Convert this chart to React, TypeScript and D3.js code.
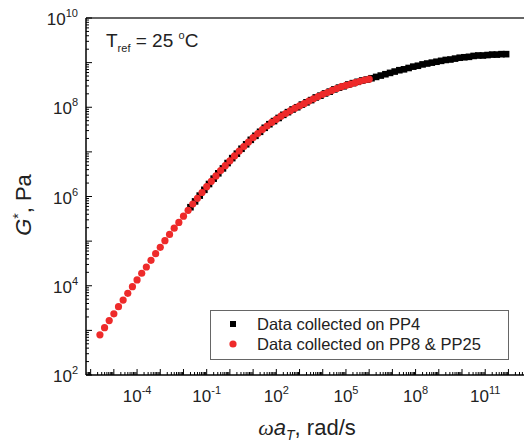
import React from 'react';
import * as d3 from 'd3';

// log10(ω·aT) and log10(G*)
const pp4LogW = [-1.7, -1.5, -1.3, -1.1, -0.9, -0.7, -0.5, -0.3, -0.1, 0.1, 0.3, 0.5, 0.7, 0.9, 1.1, 1.3, 1.5, 1.7, 1.9, 2.1, 2.3, 2.5, 2.7, 2.9, 3.1, 3.3, 3.5, 3.7, 3.9, 4.1, 4.3, 4.5, 4.7, 4.9, 5.1, 5.3, 5.5, 5.7, 5.9, 6.1, 6.3, 6.5, 6.7, 6.9, 7.1, 7.3, 7.5, 7.7, 7.9, 8.1, 8.3, 8.5, 8.7, 8.9, 9.1, 9.3, 9.5, 9.7, 9.9, 10.1, 10.3, 10.5, 10.7, 10.9, 11.1, 11.3, 11.5, 11.7, 11.9];
const pp4LogG = [5.76, 5.89, 6.02, 6.15, 6.28, 6.40, 6.52, 6.63, 6.75, 6.86, 6.96, 7.07, 7.17, 7.27, 7.36, 7.45, 7.54, 7.62, 7.69, 7.76, 7.83, 7.89, 7.95, 8.00, 8.06, 8.11, 8.16, 8.22, 8.26, 8.31, 8.35, 8.40, 8.44, 8.47, 8.51, 8.54, 8.57, 8.60, 8.62, 8.65, 8.68, 8.71, 8.74, 8.77, 8.80, 8.83, 8.85, 8.88, 8.91, 8.93, 8.96, 8.98, 9.00, 9.02, 9.04, 9.06, 9.07, 9.09, 9.11, 9.12, 9.13, 9.15, 9.16, 9.16, 9.17, 9.18, 9.18, 9.19, 9.19];

const pp8LogW = [-5.6, -5.4, -5.2, -5.0, -4.8, -4.6, -4.4, -4.2, -4.0, -3.8, -3.6, -3.4, -3.2, -3.0, -2.8, -2.6, -2.4, -2.2, -2.0, -1.8, -1.6, -1.4, -1.2, -1.0, -0.8, -0.6, -0.4, -0.2, 0.0, 0.2, 0.4, 0.6, 0.8, 1.0, 1.2, 1.4, 1.6, 1.8, 2.0, 2.2, 2.4, 2.6, 2.8, 3.0, 3.2, 3.4, 3.6, 3.8, 4.0, 4.2, 4.4, 4.6, 4.8, 5.0, 5.2, 5.4, 5.6, 5.8, 6.0];
const pp8LogG = [2.90, 3.06, 3.22, 3.37, 3.53, 3.68, 3.83, 3.98, 4.13, 4.28, 4.42, 4.57, 4.72, 4.86, 5.01, 5.15, 5.29, 5.42, 5.56, 5.69, 5.83, 5.96, 6.09, 6.22, 6.34, 6.46, 6.58, 6.69, 6.80, 6.91, 7.02, 7.12, 7.22, 7.32, 7.41, 7.50, 7.58, 7.66, 7.73, 7.80, 7.86, 7.92, 7.98, 8.03, 8.08, 8.14, 8.19, 8.24, 8.29, 8.33, 8.38, 8.42, 8.46, 8.49, 8.52, 8.55, 8.58, 8.61, 8.63];

const xTickExps = [-4, -1, 2, 5, 8, 11];
const yTickExps = [2, 4, 6, 8, 10];
const legendLabels = ['Data collected on PP4', 'Data collected on PP8 & PP25'];
const annotation = { main: 'T', sub: 'ref', rest: ' = 25 ', deg: 'o', unit: 'C' };

const FONT = "'Liberation Sans', Arial, sans-serif";
const SERIF = "'Liberation Serif', 'Times New Roman', serif";

export default function App() {
  const left = 86, top = 18, bottom = 375, right = 527;
  const x = d3.scaleLog().domain([Math.pow(10, -6.2), Math.pow(10, 12.8)]).range([left, right]);
  const y = d3.scaleLog().domain([1e2, 1e10]).range([bottom, top]);
  const [xd0, xd1] = x.domain();
  const [yd0, yd1] = y.domain();

  const xTicks: { v: number; major: boolean }[] = [];
  for (let d = -7; d <= 13; d++) {
    for (let k = 1; k <= 9; k++) {
      const v = k * Math.pow(10, d);
      if (v >= xd0 * 0.999 && v <= xd1) xTicks.push({ v, major: k === 1 });
    }
  }
  const yTicks: { v: number; major: boolean }[] = [];
  for (let d = 2; d <= 10; d++) {
    for (let k = 1; k <= 9; k++) {
      const v = k * Math.pow(10, d);
      if (v >= yd0 * 0.999 && v <= yd1 * 1.001) yTicks.push({ v, major: k === 1 });
    }
  }

  const pp4 = pp4LogW.map((w, i) => ({ w: Math.pow(10, w), g: Math.pow(10, pp4LogG[i]) }));
  const pp8 = pp8LogW.map((w, i) => ({ w: Math.pow(10, w), g: Math.pow(10, pp8LogG[i]) }));

  const sq = 6.6;
  const red = '#ee2a2a';

  return (
    <svg width={524} height={447} style={{ position: 'absolute', left: 0, top: 0, background: '#fff' }}>
      <rect x={0} y={0} width={524} height={447} fill="#fff" />
      {/* data */}
      <g>
        {pp4.map((p, i) => (
          <rect key={'s' + i} x={x(p.w) - sq / 2} y={y(p.g) - sq / 2} width={sq} height={sq} fill="#000" />
        ))}
        {pp8.map((p, i) => (
          <circle key={'c' + i} cx={x(p.w)} cy={y(p.g)} r={3.6} fill={red} />
        ))}
      </g>
      {/* frame */}
      <line x1={left} x2={right} y1={top} y2={top} stroke="#333" strokeWidth={1.3} />
      <line x1={left} x2={left} y1={top} y2={bottom} stroke="#000" strokeWidth={1.5} />
      <line x1={left} x2={right} y1={bottom} y2={bottom} stroke="#000" strokeWidth={1.5} />
      {/* x ticks */}
      {xTicks.map((t, i) => (
        <line key={'xt' + i} x1={x(t.v)} x2={x(t.v)} y1={bottom} y2={bottom - (t.major ? 6 : 3)} stroke="#000" strokeWidth={1} />
      ))}
      {yTicks.map((t, i) => (
        <line key={'yt' + i} x1={left} x2={left + (t.major ? 6 : 3)} y1={y(t.v)} y2={y(t.v)} stroke="#000" strokeWidth={1} />
      ))}
      {/* x tick labels */}
      {xTickExps.map((e) => (
        <text key={'xl' + e} x={x(Math.pow(10, e))} y={402} textAnchor="middle" fontFamily={FONT} fontSize={17} fill="#222">
          10<tspan fontSize={11} dy={-8}>{e}</tspan>
        </text>
      ))}
      {yTickExps.map((e) => (
        <text key={'yl' + e} x={78} y={y(Math.pow(10, e)) + 7} textAnchor="end" fontFamily={FONT} fontSize={17} fill="#222">
          10<tspan fontSize={11} dy={-8}>{e}</tspan>
        </text>
      ))}
      {/* axis titles */}
      <text x={307} y={435} textAnchor="middle" fontFamily={FONT} fontSize={22} fill="#222">
        <tspan fontFamily={SERIF} fontStyle="italic">ω</tspan>
        <tspan fontStyle="italic">a</tspan>
        <tspan fontStyle="italic" fontSize={14} dy={5}>T</tspan>
        <tspan dy={-5}>, rad/s</tspan>
      </text>
      <text transform="translate(31,205) rotate(-90)" textAnchor="middle" fontFamily={FONT} fontSize={22} fill="#222">
        <tspan fontStyle="italic">G</tspan>
        <tspan fontSize={14} dy={-8}>*</tspan>
        <tspan dy={8}>, Pa</tspan>
      </text>
      {/* annotation */}
      <text x={106} y={47} fontFamily={FONT} fontSize={19} fill="#222">
        {annotation.main}
        <tspan fontSize={11} dy={5}>{annotation.sub}</tspan>
        <tspan dy={-5}>{annotation.rest}</tspan>
        <tspan fontSize={11} dy={-8}>{annotation.deg}</tspan>
        <tspan dy={8}>{annotation.unit}</tspan>
      </text>
      {/* legend */}
      <rect x={210.5} y={310.5} width={298} height={49} fill="#fff" stroke="#666" strokeWidth={1} />
      <rect x={233 - 3} y={324 - 3} width={6} height={6} fill="#000" />
      <circle cx={233} cy={344} r={3.6} fill={red} />
      <text x={257} y={330} fontFamily={FONT} fontSize={16.5} fill="#222">{legendLabels[0]}</text>
      <text x={257} y={350} fontFamily={FONT} fontSize={16.5} fill="#222">{legendLabels[1]}</text>
    </svg>
  );
}
